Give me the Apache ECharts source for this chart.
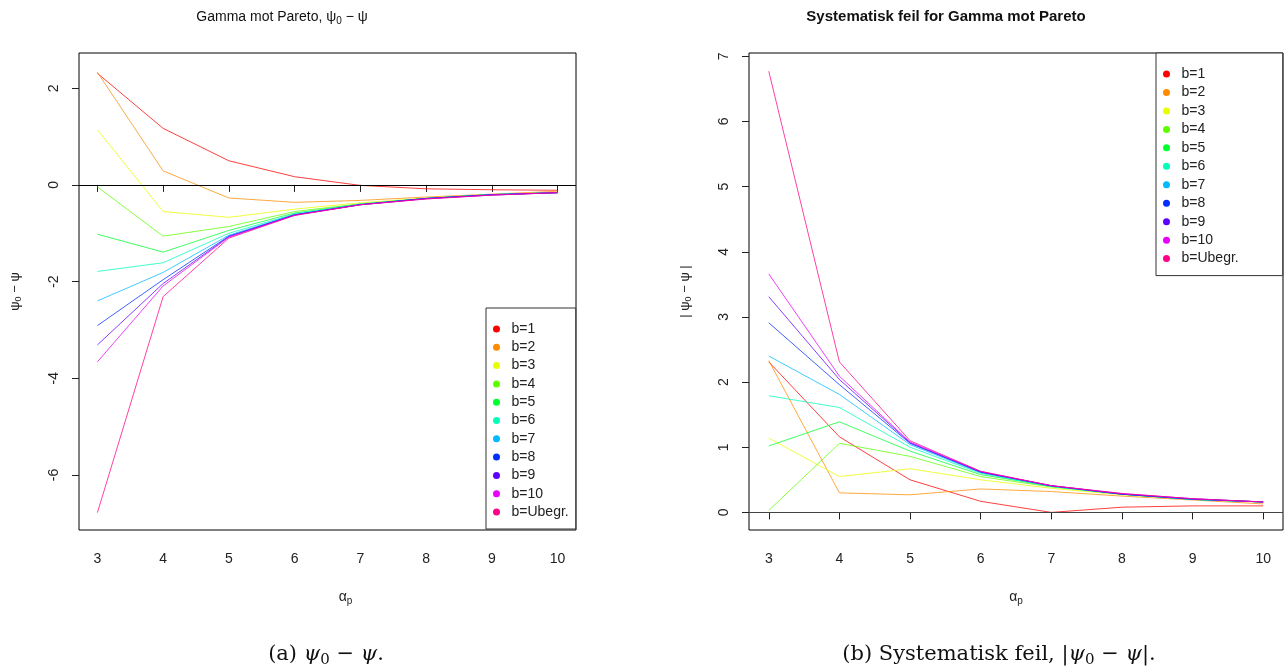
<!DOCTYPE html>
<html><head><meta charset="utf-8">
<script src="https://cdn.jsdelivr.net/npm/echarts@6/dist/echarts.min.js"></script>
<style>html,body{margin:0;padding:0;background:#fff}#c{width:1284px;height:671px}</style>
</head><body><div id="c"></div>
<script>
// ---- data ----
const alpha = [3, 4, 5, 6, 7, 8, 9, 10];
const seriesNames = ['b=1', 'b=2', 'b=3', 'b=4', 'b=5', 'b=6', 'b=7', 'b=8', 'b=9', 'b=10', 'b=Ubegr.'];
const colors = ['#FF0000', '#FF8B00', '#E8FF00', '#5DFF00', '#00FF2E', '#00FFB9', '#00B9FF', '#002EFF', '#5D00FF', '#E800FF', '#FF008B'];

// (a) psi0 - psi
const diffB1 = [2.31, 1.17, 0.50, 0.17, -0.01, -0.08, -0.10, -0.11];
const diffB2 = [2.33, 0.29, -0.27, -0.36, -0.32, -0.25, -0.19, -0.13];
const diffB3 = [1.14, -0.55, -0.67, -0.50, -0.37, -0.27, -0.20, -0.16];
const diffB4 = [-0.04, -1.06, -0.86, -0.55, -0.39, -0.28, -0.20, -0.16];
const diffB5 = [-1.02, -1.39, -0.94, -0.58, -0.40, -0.28, -0.20, -0.16];
const diffB6 = [-1.79, -1.61, -1.00, -0.60, -0.40, -0.28, -0.20, -0.16];
const diffB7 = [-2.40, -1.81, -1.04, -0.61, -0.40, -0.28, -0.20, -0.16];
const diffB8 = [-2.91, -1.96, -1.06, -0.62, -0.41, -0.28, -0.20, -0.16];
const diffB9 = [-3.31, -2.04, -1.07, -0.62, -0.41, -0.28, -0.21, -0.16];
const diffB10 = [-3.66, -2.09, -1.08, -0.63, -0.41, -0.29, -0.21, -0.16];
const diffUbegr = [-6.78, -2.31, -1.10, -0.63, -0.41, -0.29, -0.21, -0.16];

// (b) |psi0 - psi|
const absB1 = [2.31, 1.16, 0.50, 0.17, 0.00, 0.08, 0.10, 0.10];
const absB2 = [2.33, 0.30, 0.27, 0.36, 0.32, 0.25, 0.19, 0.13];
const absB3 = [1.14, 0.55, 0.67, 0.50, 0.37, 0.27, 0.20, 0.16];
const absB4 = [0.03, 1.06, 0.86, 0.55, 0.39, 0.28, 0.20, 0.16];
const absB5 = [1.02, 1.39, 0.94, 0.58, 0.40, 0.28, 0.20, 0.16];
const absB6 = [1.79, 1.61, 1.00, 0.60, 0.40, 0.28, 0.20, 0.16];
const absB7 = [2.40, 1.81, 1.04, 0.61, 0.40, 0.28, 0.20, 0.16];
const absB8 = [2.91, 1.96, 1.06, 0.62, 0.41, 0.28, 0.20, 0.16];
const absB9 = [3.31, 2.04, 1.07, 0.62, 0.41, 0.28, 0.21, 0.16];
const absB10 = [3.66, 2.09, 1.08, 0.63, 0.41, 0.29, 0.21, 0.16];
const absUbegr = [6.77, 2.31, 1.10, 0.63, 0.41, 0.29, 0.21, 0.16];

const xTicks = [3, 4, 5, 6, 7, 8, 9, 10];
const leftYTicks = [-6, -4, -2, 0, 2];
const rightYTicks = [0, 1, 2, 3, 4, 5, 6, 7];

const diffData = [diffB1, diffB2, diffB3, diffB4, diffB5, diffB6, diffB7, diffB8, diffB9, diffB10, diffUbegr];
const absData = [absB1, absB2, absB3, absB4, absB5, absB6, absB7, absB8, absB9, absB10, absUbegr];

// ---- chart ----
const FONT = '"Liberation Sans", Arial, sans-serif';
const SERIF = '"DejaVu Serif", "Liberation Serif", serif';
const chart = echarts.init(document.getElementById('c'), null, {renderer: 'canvas'});

function xAxisDef(gridIndex, nameShift) {
  return {
    type: 'value', gridIndex: gridIndex, min: 2.72, max: 10.28,
    axisLine: {show: false},
    splitLine: {show: false},
    axisTick: {show: true, customValues: xTicks, length: 7, inside: false, lineStyle: {color: '#222'}},
    axisLabel: {customValues: xTicks, margin: 22, fontFamily: FONT, fontSize: 14, color: '#222'},
    name: '{p|α}{s|p}', nameLocation: 'middle', nameGap: 58,
    nameTextStyle: {padding: [0, 0, 0, nameShift],
      rich: {p: {fontFamily: FONT, fontSize: 14, color: '#222'},
             s: {fontFamily: FONT, fontSize: 10, color: '#222', verticalAlign: 'bottom', padding: [8, 0, 0, 0]}}}
  };
}
function yAxisDef(gridIndex, min, max, ticks, name) {
  return {
    type: 'value', gridIndex: gridIndex, min: min, max: max,
    axisLine: {show: false},
    splitLine: {show: false},
    axisTick: {show: true, customValues: ticks, length: 7, inside: false, lineStyle: {color: '#222'}},
    axisLabel: {customValues: ticks, rotate: 90, margin: 18, fontFamily: FONT, fontSize: 14, color: '#222'},
    name: name, nameLocation: 'middle', nameGap: 56, nameRotate: 90,
    nameTextStyle: {rich: {p: {fontFamily: FONT, fontSize: 13, color: '#222'},
                           s: {fontFamily: FONT, fontSize: 9, color: '#222', verticalAlign: 'bottom', padding: [7, 0, 0, 0]}}}
  };
}

const series = [];
seriesNames.forEach(function (nm, i) {
  series.push({
    name: nm, type: 'line', xAxisIndex: 0, yAxisIndex: 0,
    data: alpha.map(function (a, k) { return [a, diffData[i][k]]; }),
    showSymbol: false, symbol: 'circle', color: colors[i],
    lineStyle: {width: 1, color: colors[i], opacity: 0.75}, animation: false,
    markLine: i === 0 ? {silent: true, symbol: 'none', label: {show: false},
      lineStyle: {color: '#000', width: 1, type: 'solid', opacity: 1}, data: [{yAxis: 0}]} : undefined
  });
});
seriesNames.forEach(function (nm, i) {
  series.push({
    name: nm, type: 'line', xAxisIndex: 1, yAxisIndex: 1,
    data: alpha.map(function (a, k) { return [a, absData[i][k]]; }),
    showSymbol: false, symbol: 'circle', color: colors[i],
    lineStyle: {width: 1, color: colors[i], opacity: 0.75}, animation: false,
    markLine: i === 0 ? {silent: true, symbol: 'none', label: {show: false},
      lineStyle: {color: '#444', width: 1, type: 'solid', opacity: 1}, data: [{yAxis: 0}]} : undefined
  });
});

function legendDef(left, top, gap, padding) {
  return {
    data: seriesNames.map(function (n) { return {name: n, icon: 'circle'}; }),
    orient: 'vertical', left: left, top: top,
    itemWidth: 20, itemHeight: 7, itemGap: gap,
    padding: padding,
    borderColor: '#333', borderWidth: 1, backgroundColor: '#fff',
    selectedMode: false,
    textStyle: {fontFamily: FONT, fontSize: 14, color: '#222', lineHeight: 14, padding: [0, 0, 0, 0]}
  };
}

const option = {
  backgroundColor: '#fff',
  animation: false,
  grid: [
    {left: 79, top: 53, width: 497, height: 477, show: true, borderColor: '#000', borderWidth: 1, backgroundColor: 'transparent'},
    {left: 749, top: 53, width: 534, height: 477, show: true, borderColor: '#000', borderWidth: 1, backgroundColor: 'transparent'}
  ],
  xAxis: [xAxisDef(0, 36), xAxisDef(1, 0)],
  yAxis: [
    yAxisDef(0, -7.14, 2.73, leftYTicks, '{p|ψ}{s|0}{p| − ψ}'),
    yAxisDef(1, -0.27, 7.05, rightYTicks, '{p|| ψ}{s|0}{p| − ψ |}')
  ],
  legend: [legendDef(486, 308, 4.3, [14, 7, 10, 7]), legendDef(1156, 53, 4.46, [14, 44, 10, 7])],
  series: series,
  graphic: [
    {type: 'text', x: 282, y: 17, style: {text: '{t|Gamma mot Pareto, }{g|ψ}{s|0}{g| − ψ}', align: 'center', verticalAlign: 'middle',
      rich: {t: {fontFamily: FONT, fontSize: 14, fill: '#111'},
             g: {fontFamily: FONT, fontSize: 14, fill: '#111'},
             s: {fontFamily: FONT, fontSize: 10, fill: '#111', verticalAlign: 'bottom', padding: [8, 0, 0, 0]}}}},
    {type: 'text', x: 946, y: 17, style: {text: 'Systematisk feil for Gamma mot Pareto', align: 'center', verticalAlign: 'middle',
      font: 'bold 15px ' + FONT, fill: '#111'}},
    {type: 'text', x: 326, y: 655, style: {text: '{n|(a) }{i|ψ}{s|0}{n| − }{i|ψ}{n|.}', align: 'center', verticalAlign: 'middle',
      rich: {n: {fontFamily: SERIF, fontSize: 21, fill: '#111'},
             i: {fontFamily: SERIF, fontSize: 21, fontStyle: 'italic', fill: '#111'},
             s: {fontFamily: SERIF, fontSize: 15, fill: '#111', verticalAlign: 'bottom', padding: [11, 0, 0, 0]}}}},
    {type: 'text', x: 999, y: 655, style: {text: '{n|(b) Systematisk feil, |}{i|ψ}{s|0}{n| − }{i|ψ}{n||.}', align: 'center', verticalAlign: 'middle',
      rich: {n: {fontFamily: SERIF, fontSize: 21, fill: '#111'},
             i: {fontFamily: SERIF, fontSize: 21, fontStyle: 'italic', fill: '#111'},
             s: {fontFamily: SERIF, fontSize: 15, fill: '#111', verticalAlign: 'bottom', padding: [11, 0, 0, 0]}}}}
  ]
};
chart.setOption(option);
</script>
</body></html>
